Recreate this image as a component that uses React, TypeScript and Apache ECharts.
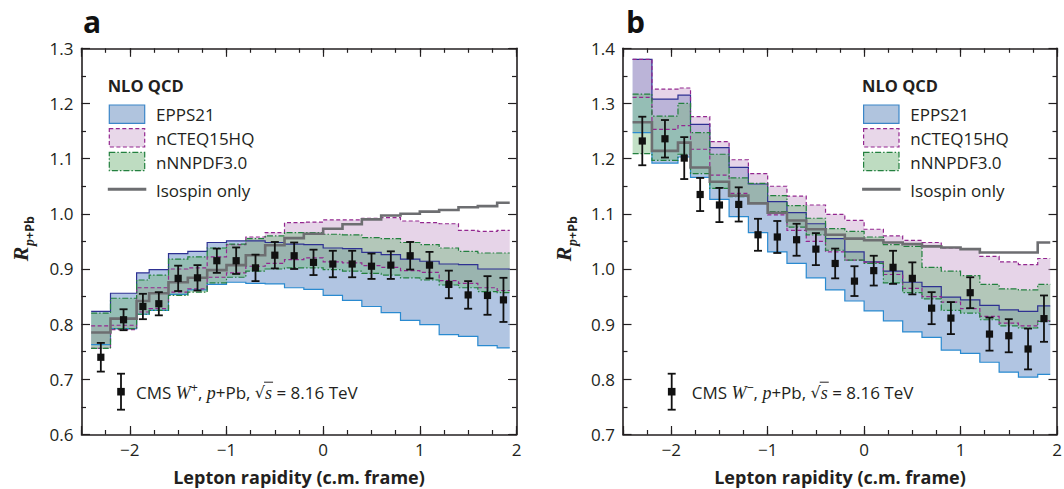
import React, { useEffect, useRef } from "react";
import * as echarts from "echarts";

// ---------- axes ----------
const X_MIN = -2.5;
const X_MAX = 2;
const xMajorTicks = [-2, -1, 0, 1, 2];
const yRangeA = [0.6, 1.3];
const yRangeB = [0.7, 1.4];

// ---------- binning (c.m. lepton rapidity) ----------
const binEdges = [-2.4, -2.2, -1.93, -1.8, -1.6, -1.4, -1.2, -1.0, -0.8, -0.6, -0.4, -0.2, 0, 0.2, 0.4, 0.6, 0.8, 1.0, 1.2, 1.4, 1.6, 1.8, 1.93];
const binCenters = [-2.3, -2.065, -1.865, -1.7, -1.5, -1.3, -1.1, -0.9, -0.7, -0.5, -0.3, -0.1, 0.1, 0.3, 0.5, 0.7, 0.9, 1.1, 1.3, 1.5, 1.7, 1.865];

// ---------- panel a : W+ ----------
const wpCms = [0.740, 0.808, 0.832, 0.837, 0.883, 0.884, 0.915, 0.915, 0.902, 0.925, 0.924, 0.912, 0.909, 0.909, 0.905, 0.907, 0.924, 0.907, 0.872, 0.853, 0.852, 0.844];
const wpCmsErr = [0.026, 0.019, 0.023, 0.021, 0.023, 0.023, 0.022, 0.024, 0.024, 0.024, 0.024, 0.023, 0.024, 0.024, 0.023, 0.025, 0.025, 0.024, 0.025, 0.025, 0.035, 0.040];
const wpEppsHi = [0.823, 0.856, 0.893, 0.899, 0.928, 0.932, 0.948, 0.951, 0.951, 0.948, 0.945, 0.944, 0.938, 0.937, 0.930, 0.926, 0.918, 0.914, 0.909, 0.908, 0.900, 0.900];
const wpEppsLo = [0.763, 0.792, 0.818, 0.825, 0.854, 0.862, 0.872, 0.876, 0.874, 0.873, 0.866, 0.863, 0.852, 0.843, 0.832, 0.821, 0.807, 0.799, 0.781, 0.778, 0.761, 0.757];
const wpNcteqHi = [0.797, 0.798, 0.866, 0.866, 0.900, 0.902, 0.922, 0.944, 0.958, 0.966, 0.984, 0.985, 0.989, 0.989, 0.992, 0.993, 0.987, 0.984, 0.982, 0.970, 0.968, 0.970];
const wpNcteqLo = [0.756, 0.790, 0.822, 0.828, 0.858, 0.864, 0.885, 0.893, 0.905, 0.910, 0.917, 0.920, 0.913, 0.911, 0.906, 0.903, 0.897, 0.894, 0.879, 0.874, 0.866, 0.861];
const wpNnpdfHi = [0.820, 0.847, 0.880, 0.889, 0.918, 0.922, 0.938, 0.945, 0.955, 0.960, 0.966, 0.966, 0.963, 0.962, 0.957, 0.955, 0.948, 0.944, 0.938, 0.932, 0.929, 0.929];
const wpNnpdfLo = [0.756, 0.792, 0.818, 0.825, 0.852, 0.858, 0.875, 0.885, 0.896, 0.900, 0.902, 0.902, 0.899, 0.896, 0.892, 0.889, 0.884, 0.880, 0.871, 0.866, 0.859, 0.857];
const wpIsospin = [0.785, 0.810, 0.842, 0.856, 0.876, 0.884, 0.898, 0.907, 0.925, 0.943, 0.956, 0.964, 0.973, 0.981, 0.990, 0.997, 1.000, 1.004, 1.007, 1.012, 1.014, 1.020];

// ---------- panel b : W- ----------
const wmCms = [1.232, 1.236, 1.201, 1.135, 1.116, 1.117, 1.062, 1.058, 1.053, 1.036, 1.010, 0.978, 0.997, 1.003, 0.983, 0.929, 0.911, 0.957, 0.882, 0.879, 0.855, 0.910];
const wmCmsErr = [0.044, 0.034, 0.038, 0.030, 0.031, 0.031, 0.029, 0.029, 0.029, 0.029, 0.027, 0.027, 0.027, 0.030, 0.029, 0.029, 0.029, 0.028, 0.030, 0.030, 0.037, 0.042];
const wmEppsHi = [1.380, 1.308, 1.315, 1.262, 1.220, 1.184, 1.154, 1.122, 1.102, 1.082, 1.055, 1.031, 1.013, 0.996, 0.976, 0.968, 0.949, 0.944, 0.934, 0.926, 0.923, 0.933];
const wmEppsLo = [1.247, 1.192, 1.203, 1.166, 1.126, 1.095, 1.066, 1.031, 1.010, 0.984, 0.962, 0.942, 0.924, 0.906, 0.886, 0.876, 0.853, 0.847, 0.831, 0.813, 0.804, 0.809];
const wmNcteqHi = [1.380, 1.326, 1.328, 1.276, 1.231, 1.198, 1.173, 1.150, 1.132, 1.116, 1.099, 1.088, 1.072, 1.060, 1.052, 1.048, 1.038, 1.036, 1.023, 1.013, 1.008, 1.019];
const wmNcteqLo = [1.311, 1.253, 1.260, 1.217, 1.170, 1.137, 1.119, 1.098, 1.070, 1.050, 1.031, 1.016, 1.012, 0.990, 0.965, 0.950, 0.940, 0.928, 0.914, 0.902, 0.897, 0.906];
const wmNnpdfHi = [1.317, 1.277, 1.300, 1.247, 1.208, 1.165, 1.155, 1.133, 1.115, 1.092, 1.073, 1.068, 1.058, 1.044, 1.041, 1.003, 0.996, 0.988, 0.972, 0.964, 0.962, 0.972];
const wmNnpdfLo = [1.209, 1.197, 1.208, 1.173, 1.146, 1.131, 1.119, 1.104, 1.076, 1.062, 1.034, 1.016, 1.010, 0.975, 0.957, 0.946, 0.925, 0.920, 0.908, 0.897, 0.893, 0.905];
const wmIsospin = [1.266, 1.214, 1.229, 1.184, 1.158, 1.133, 1.119, 1.102, 1.088, 1.072, 1.062, 1.055, 1.052, 1.048, 1.045, 1.041, 1.039, 1.036, 1.030, 1.030, 1.030, 1.048];

// ---------- styles ----------
const INK = "#231f20";
const SANS = '"Open Sans", "Noto Sans", "DejaVu Sans", sans-serif';
const SERIF = '"Liberation Serif", "DejaVu Serif", serif';
const EPPS = { fill: "rgba(120,155,205,0.58)", top: "#2e3192", bottom: "#2a8ad0", box: "#b0c4de", boxStroke: "#3b86c8" };
const NCTEQ = { fill: "rgba(200,160,205,0.45)", line: "#93278f", dash: [4, 2.5], box: "#e8d7e9" };
const NNPDF = { fill: "rgba(110,180,120,0.42)", line: "#23803f", dash: [6, 2, 1.5, 2], box: "#bedcc1" };
const ISO = "#6d6e71";

const GRID_A = { left: 81.5, top: 48.3, width: 435, height: 386.2 };
const GRID_B = { left: 623, top: 48.3, width: 434, height: 386.2 };

function stepPoints(api: any, vals: number[]) {
  const pts: number[][] = [];
  for (let i = 0; i < vals.length; i++) {
    pts.push(api.coord([binEdges[i], vals[i]]));
    pts.push(api.coord([binEdges[i + 1], vals[i]]));
  }
  return pts;
}

const axisLineStyle = { color: INK, width: 1.6 };
const tickStyle = { color: INK, width: 1.2 };

function fmtX(v: number) {
  const r = Math.round(v);
  if (Math.abs(v - r) > 1e-6 || !xMajorTicks.includes(r)) return "";
  return r < 0 ? "\u2212" + Math.abs(r) : String(r);
}

function xAxesFor(grid: number) {
  const common = { gridIndex: grid, type: "value", min: X_MIN, max: X_MAX, splitLine: { show: false }, minorSplitLine: { show: false } };
  const line = { show: true, onZero: false, lineStyle: axisLineStyle };
  const minor = { show: true, inside: true, length: 4.5, lineStyle: tickStyle };
  const major = { show: true, inside: true, length: 8.5, lineStyle: tickStyle };
  return [
    { ...common, position: "bottom", interval: 0.25, axisLine: line, axisTick: minor,
      axisLabel: { show: true, formatter: fmtX, margin: 6, fontSize: 17, color: INK, fontFamily: SANS } },
    { ...common, position: "top", interval: 0.25, axisLine: line, axisTick: minor, axisLabel: { show: false } },
    { ...common, position: "bottom", splitNumber: 4, minInterval: 1, maxInterval: 1, axisLine: { show: false }, axisTick: major, axisLabel: { show: false } },
    { ...common, position: "top", splitNumber: 4, minInterval: 1, maxInterval: 1, axisLine: { show: false }, axisTick: major, axisLabel: { show: false } },
  ];
}

function yAxesFor(grid: number, range: number[]) {
  const common = {
    gridIndex: grid, type: "value", min: range[0], max: range[1], interval: 0.1,
    splitLine: { show: false }, minorSplitLine: { show: false },
    axisLine: { show: true, onZero: false, lineStyle: axisLineStyle },
    axisTick: { show: true, inside: true, length: 8.5, lineStyle: tickStyle },
    minorTick: { show: true, splitNumber: 2, length: 4.5, lineStyle: tickStyle },
  };
  return [
    { ...common, position: "left", axisLabel: { show: true, formatter: (v: number) => v.toFixed(1), margin: 8, fontSize: 17, color: INK, fontFamily: SANS } },
    { ...common, position: "right", axisLabel: { show: false } },
  ];
}

function panelSeries(xi: number, yi: number, d: any) {
  const bands = [
    { lo: d.eppsLo, hi: d.eppsHi, fill: EPPS.fill, topC: EPPS.top, botC: EPPS.bottom, dash: null },
    { lo: d.ncteqLo, hi: d.ncteqHi, fill: NCTEQ.fill, topC: NCTEQ.line, botC: NCTEQ.line, dash: NCTEQ.dash },
    { lo: d.nnpdfLo, hi: d.nnpdfHi, fill: NNPDF.fill, topC: NNPDF.line, botC: NNPDF.line, dash: NNPDF.dash },
  ];
  const anchor = [[binCenters[0], d.cms[0]]];
  const fills = bands.map((b) => ({
    type: "custom", xAxisIndex: xi, yAxisIndex: yi, z: 2, silent: true, data: anchor,
    renderItem: (_p: any, api: any) => {
      const top = stepPoints(api, b.hi);
      const bot = stepPoints(api, b.lo).reverse();
      return { type: "polygon", shape: { points: top.concat(bot) }, style: { fill: b.fill } };
    },
  }));
  const lines = bands.map((b) => ({
    type: "custom", xAxisIndex: xi, yAxisIndex: yi, z: 3, silent: true, data: anchor,
    renderItem: (_p: any, api: any) => ({
      type: "group",
      children: [
        { type: "polyline", shape: { points: stepPoints(api, b.hi) }, style: { stroke: b.topC, lineWidth: 1.2, lineDash: b.dash, fill: "none" } },
        { type: "polyline", shape: { points: stepPoints(api, b.lo) }, style: { stroke: b.botC, lineWidth: 1.2, lineDash: b.dash, fill: "none" } },
      ],
    }),
  }));
  const iso = {
    type: "custom", xAxisIndex: xi, yAxisIndex: yi, z: 4, silent: true, data: anchor,
    renderItem: (_p: any, api: any) => ({
      type: "polyline", shape: { points: stepPoints(api, d.iso) }, style: { stroke: ISO, lineWidth: 2.6, fill: "none" },
    }),
  };
  const pts = {
    type: "custom", xAxisIndex: xi, yAxisIndex: yi, z: 5, silent: true,
    data: binCenters.map((x, i) => [x, d.cms[i], d.err[i]]),
    renderItem: (_p: any, api: any) => {
      const x = api.value(0), v = api.value(1), e = api.value(2);
      const c = api.coord([x, v]);
      const t = api.coord([x, v + e]);
      const b = api.coord([x, v - e]);
      const cap = 4, s = 3.6;
      const st = { stroke: "#111", lineWidth: 1.8 };
      return {
        type: "group",
        children: [
          { type: "line", shape: { x1: c[0], y1: t[1], x2: c[0], y2: b[1] }, style: st },
          { type: "line", shape: { x1: c[0] - cap, y1: t[1], x2: c[0] + cap, y2: t[1] }, style: st },
          { type: "line", shape: { x1: c[0] - cap, y1: b[1], x2: c[0] + cap, y2: b[1] }, style: st },
          { type: "rect", shape: { x: c[0] - s, y: c[1] - s, width: 2 * s, height: 2 * s }, style: { fill: "#111" } },
        ],
      };
    },
  };
  return [...fills, ...lines, iso, pts];
}

let measureCtx: any = null;
function measure(text: string, font: string) {
  if (!measureCtx) measureCtx = document.createElement("canvas").getContext("2d");
  measureCtx.font = font;
  return measureCtx.measureText(text).width;
}

function nloLegend(dx: number) {
  const bx = 109.3 + dx, tx = 156 + dx;
  const rows = [
    { y: 105, label: "EPPS21", fill: EPPS.box, stroke: EPPS.boxStroke, dash: null },
    { y: 128.7, label: "nCTEQ15HQ", fill: NCTEQ.box, stroke: NCTEQ.line, dash: NCTEQ.dash },
    { y: 152.4, label: "nNNPDF3.0", fill: NNPDF.box, stroke: NNPDF.line, dash: NNPDF.dash },
  ];
  const els: any[] = [
    { type: "text", x: 107.7 + dx, y: 85, style: { text: "NLO QCD", fontSize: 16.5, fontWeight: "bold", fontFamily: SANS, fill: INK, align: "left", verticalAlign: "middle" } },
  ];
  rows.forEach((r) => {
    els.push({ type: "rect", shape: { x: bx, y: r.y, width: 35.4, height: 18.3 }, style: { fill: r.fill, stroke: r.stroke, lineWidth: 1.2, lineDash: r.dash } });
    els.push({ type: "text", x: tx, y: r.y + 9.6, style: { text: r.label, fontSize: 17, fontFamily: SANS, fill: INK, align: "left", verticalAlign: "middle" } });
  });
  els.push({ type: "line", shape: { x1: bx - 1.5, y1: 189.3, x2: bx + 37, y2: 189.3 }, style: { stroke: ISO, lineWidth: 3 } });
  els.push({ type: "text", x: tx, y: 190, style: { text: "Isospin only", fontSize: 17, fontFamily: SANS, fill: INK, align: "left", verticalAlign: "middle" } });
  return els;
}

function cmsLegend(mx: number, tx: number, charge: string) {
  const my = 391.7, cy = 392.5;
  const st = { stroke: "#111", lineWidth: 1.8 };
  const els: any[] = [
    { type: "line", shape: { x1: mx, y1: my - 18, x2: mx, y2: my + 18 }, style: st },
    { type: "line", shape: { x1: mx - 4, y1: my - 18, x2: mx + 4, y2: my - 18 }, style: st },
    { type: "line", shape: { x1: mx - 4, y1: my + 18, x2: mx + 4, y2: my + 18 }, style: st },
    { type: "rect", shape: { x: mx - 3.8, y: my - 3.8, width: 7.6, height: 7.6 }, style: { fill: "#111" } },
  ];
  const segs = [
    { t: "CMS ", fs: 17, fam: SANS, it: false, dy: 0 },
    { t: "W", fs: 18, fam: SERIF, it: true, dy: 0 },
    { t: charge, fs: 12.5, fam: SANS, it: false, dy: -5 },
    { t: ", ", fs: 17, fam: SANS, it: false, dy: 0 },
    { t: "p", fs: 18, fam: SERIF, it: true, dy: 0 },
    { t: "+Pb, ", fs: 17, fam: SANS, it: false, dy: 0 },
    { t: "\u221a", fs: 16, fam: '"DejaVu Sans", sans-serif', it: false, dy: 0 },
    { t: "s", fs: 18, fam: SERIF, it: true, dy: 0, over: true },
    { t: " = 8.16 TeV", fs: 17, fam: SANS, it: false, dy: 0 },
  ];
  let x = tx;
  segs.forEach((s: any) => {
    const font = `${s.it ? "italic " : ""}${s.fs}px ${s.fam}`;
    const w = measure(s.t, font);
    els.push({ type: "text", x, y: cy + s.dy, style: { text: s.t, fontSize: s.fs, fontFamily: s.fam, fontStyle: s.it ? "italic" : "normal", fill: INK, align: "left", verticalAlign: "middle" } });
    if (s.over) {
      els.push({ type: "line", shape: { x1: x - 1, y1: cy - 10.3, x2: x + w + 1, y2: cy - 10.3 }, style: { stroke: INK, lineWidth: 1 } });
    }
    x += w;
  });
  return els;
}

function yTitle(gx: number, gy: number) {
  return {
    type: "group", x: gx, y: gy, rotation: Math.PI / 2,
    children: [
      { type: "text", x: -13, y: -4.5, style: { text: "R", fontSize: 22, fontFamily: SERIF, fontStyle: "italic", fontWeight: "bold", fill: INK, align: "center", verticalAlign: "middle" } },
      { type: "text", x: 10, y: 4, style: {
        text: "{p|p}{b|+Pb}", align: "center", verticalAlign: "middle",
        rich: {
          p: { fontSize: 14, fontFamily: SERIF, fontStyle: "italic", fontWeight: "bold", fill: INK },
          b: { fontSize: 12.5, fontFamily: SANS, fontWeight: "bold", fill: INK },
        },
      } },
    ],
  };
}

function xTitle(cx: number) {
  return { type: "text", x: cx, y: 476.5, style: { text: "Lepton rapidity (c.m. frame)", fontSize: 18, fontWeight: "bold", fontFamily: SANS, fill: INK, align: "center", verticalAlign: "middle" } };
}

function buildOption() {
  const dA = { cms: wpCms, err: wpCmsErr, eppsHi: wpEppsHi, eppsLo: wpEppsLo, ncteqHi: wpNcteqHi, ncteqLo: wpNcteqLo, nnpdfHi: wpNnpdfHi, nnpdfLo: wpNnpdfLo, iso: wpIsospin };
  const dB = { cms: wmCms, err: wmCmsErr, eppsHi: wmEppsHi, eppsLo: wmEppsLo, ncteqHi: wmNcteqHi, ncteqLo: wmNcteqLo, nnpdfHi: wmNnpdfHi, nnpdfLo: wmNnpdfLo, iso: wmIsospin };
  return {
    animation: false,
    backgroundColor: "#ffffff",
    textStyle: { fontFamily: SANS },
    grid: [
      { ...GRID_A, outerBoundsMode: "none" },
      { ...GRID_B, outerBoundsMode: "none" },
    ],
    xAxis: [...xAxesFor(0), ...xAxesFor(1)],
    yAxis: [...yAxesFor(0, yRangeA), ...yAxesFor(1, yRangeB)],
    series: [...panelSeries(0, 0, dA), ...panelSeries(4, 2, dB)],
    graphic: [
      { type: "text", x: 83, y: 21.5, style: { text: "a", fontSize: 30, fontWeight: "bold", fontFamily: SANS, fill: "#111", align: "left", verticalAlign: "middle" } },
      { type: "text", x: 626, y: 21.5, style: { text: "b", fontSize: 30, fontWeight: "bold", fontFamily: SANS, fill: "#111", align: "left", verticalAlign: "middle" } },
      ...nloLegend(0),
      ...nloLegend(754.3),
      ...cmsLegend(121, 136, "+"),
      ...cmsLegend(671.7, 691.7, "\u2212"),
      yTitle(25, 241),
      yTitle(568, 241),
      xTitle(299),
      xTitle(840),
    ],
  };
}

export default function App() {
  const ref = useRef<HTMLDivElement>(null);
  useEffect(() => {
    const chart = echarts.init(ref.current as HTMLDivElement, undefined, { renderer: "svg" });
    chart.setOption(buildOption() as any);
    return () => chart.dispose();
  }, []);
  return <div ref={ref} style={{ position: "fixed", left: 0, top: 0, width: 1064, height: 489, background: "#fff" }} />;
}
